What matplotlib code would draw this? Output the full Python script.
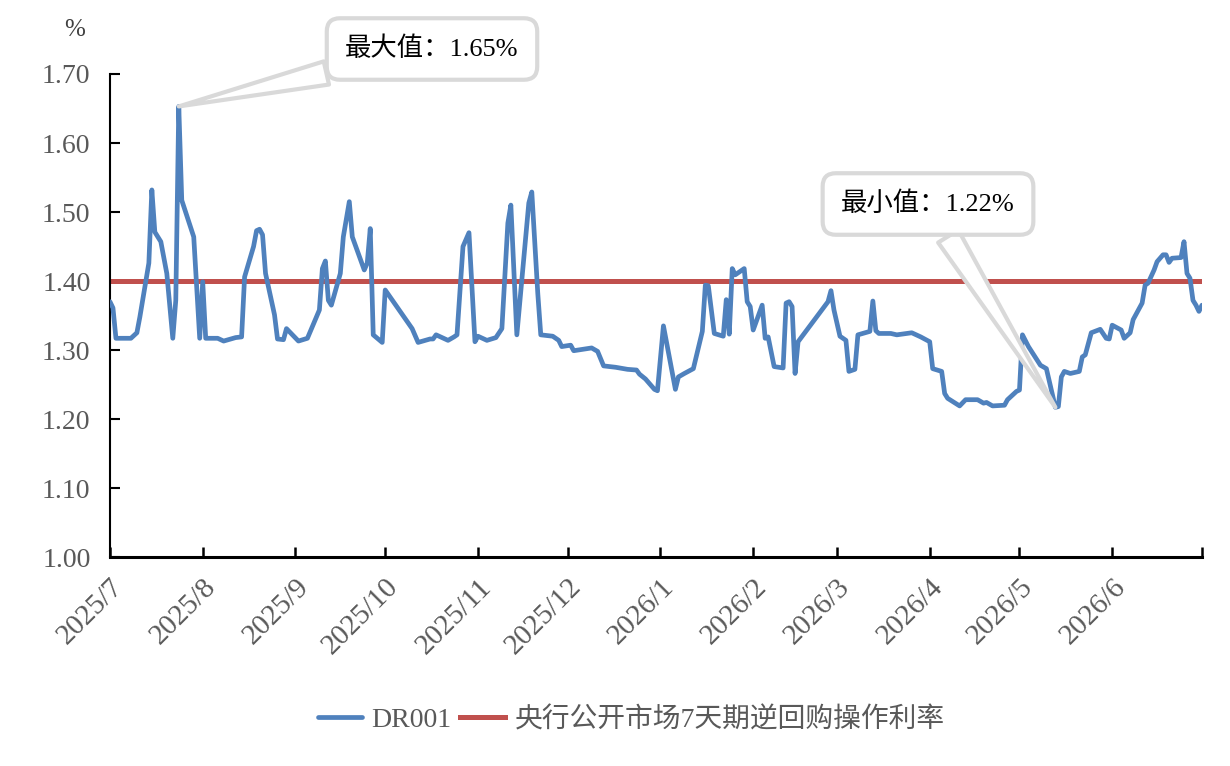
import numpy as np
import pandas as pd
import matplotlib
matplotlib.use("Agg")
import matplotlib.pyplot as plt

plt.rcParams['font.family'] = ['Liberation Serif', 'Noto Sans CJK SC', 'DejaVu Sans']

# DR001 daily values (%)
dr_dates = [
    "2025-07-01", "2025-07-02", "2025-07-03", "2025-07-08", "2025-07-10", "2025-07-11",
    "2025-07-14", "2025-07-15", "2025-07-16", "2025-07-18", "2025-07-20", "2025-07-22",
    "2025-07-23", "2025-07-24", "2025-07-25", "2025-07-29", "2025-07-31", "2025-08-01",
    "2025-08-02", "2025-08-06", "2025-08-08", "2025-08-12", "2025-08-14", "2025-08-15",
    "2025-08-18", "2025-08-19", "2025-08-20", "2025-08-21", "2025-08-22", "2025-08-25",
    "2025-08-26", "2025-08-28", "2025-08-29", "2025-09-02", "2025-09-05", "2025-09-09",
    "2025-09-10", "2025-09-11", "2025-09-12", "2025-09-13", "2025-09-16", "2025-09-17",
    "2025-09-19", "2025-09-20", "2025-09-24", "2025-09-25", "2025-09-26", "2025-09-27",
    "2025-09-30", "2025-10-01", "2025-10-10", "2025-10-12", "2025-10-16", "2025-10-17",
    "2025-10-18", "2025-10-22", "2025-10-24", "2025-10-25", "2025-10-27", "2025-10-29",
    "2025-10-31", "2025-11-01", "2025-11-04", "2025-11-07", "2025-11-09", "2025-11-11",
    "2025-11-12", "2025-11-14", "2025-11-18", "2025-11-19", "2025-11-21", "2025-11-22",
    "2025-11-26", "2025-11-28", "2025-11-29", "2025-12-02", "2025-12-03", "2025-12-09",
    "2025-12-11", "2025-12-13", "2025-12-17", "2025-12-21", "2025-12-24", "2025-12-25",
    "2025-12-27", "2025-12-30", "2025-12-31", "2026-01-02", "2026-01-06", "2026-01-07",
    "2026-01-09", "2026-01-12", "2026-01-15", "2026-01-16", "2026-01-17", "2026-01-19",
    "2026-01-22", "2026-01-23", "2026-01-24", "2026-01-25", "2026-01-26", "2026-01-29",
    "2026-01-30", "2026-01-31", "2026-02-01", "2026-02-04", "2026-02-05", "2026-02-06",
    "2026-02-08", "2026-02-11", "2026-02-12", "2026-02-13", "2026-02-14", "2026-02-15",
    "2026-02-16", "2026-02-26", "2026-02-27", "2026-02-28", "2026-03-02", "2026-03-04",
    "2026-03-05", "2026-03-07", "2026-03-08", "2026-03-12", "2026-03-13", "2026-03-14",
    "2026-03-15", "2026-03-19", "2026-03-21", "2026-03-26", "2026-03-29", "2026-04-01",
    "2026-04-02", "2026-04-05", "2026-04-06", "2026-04-07", "2026-04-11", "2026-04-13",
    "2026-04-17", "2026-04-19", "2026-04-20", "2026-04-22", "2026-04-26", "2026-04-27",
    "2026-04-30", "2026-05-01", "2026-05-02", "2026-05-04", "2026-05-08", "2026-05-10",
    "2026-05-13", "2026-05-14", "2026-05-15", "2026-05-16", "2026-05-18", "2026-05-21",
    "2026-05-22", "2026-05-23", "2026-05-25", "2026-05-28", "2026-05-30", "2026-05-31",
    "2026-06-01", "2026-06-04", "2026-06-05", "2026-06-07", "2026-06-08", "2026-06-11",
    "2026-06-12", "2026-06-13", "2026-06-15", "2026-06-16", "2026-06-18", "2026-06-19",
    "2026-06-20", "2026-06-21", "2026-06-24", "2026-06-25", "2026-06-26", "2026-06-27",
    "2026-06-28", "2026-06-29", "2026-06-30", "2026-07-01",
]
dr_values = [
    1.370, 1.361, 1.317, 1.317, 1.325, 1.348,
    1.426, 1.532, 1.471, 1.457, 1.411, 1.317,
    1.372, 1.653, 1.517, 1.464, 1.317, 1.399,
    1.317, 1.317, 1.313, 1.318, 1.319, 1.406,
    1.450, 1.473, 1.475, 1.467, 1.411, 1.351,
    1.316, 1.315, 1.331, 1.313, 1.317, 1.358,
    1.418, 1.429, 1.372, 1.365, 1.411, 1.464,
    1.515, 1.464, 1.416, 1.426, 1.476, 1.322,
    1.311, 1.387, 1.331, 1.311, 1.316, 1.316,
    1.322, 1.314, 1.319, 1.322, 1.450, 1.470,
    1.312, 1.320, 1.314, 1.318, 1.331, 1.484,
    1.510, 1.322, 1.513, 1.529, 1.382, 1.322,
    1.320, 1.314, 1.305, 1.307, 1.299, 1.303,
    1.298, 1.277, 1.275, 1.272, 1.271, 1.265,
    1.258, 1.243, 1.241, 1.335, 1.243, 1.261,
    1.266, 1.273, 1.327, 1.394, 1.393, 1.324,
    1.320, 1.373, 1.323, 1.418, 1.409, 1.418,
    1.370, 1.363, 1.329, 1.365, 1.317, 1.319,
    1.276, 1.274, 1.368, 1.370, 1.363, 1.266,
    1.312, 1.370, 1.386, 1.358, 1.320, 1.314,
    1.269, 1.272, 1.322, 1.327, 1.371, 1.328,
    1.324, 1.324, 1.322, 1.325, 1.319, 1.312,
    1.273, 1.269, 1.237, 1.230, 1.219, 1.228,
    1.228, 1.223, 1.224, 1.219, 1.220, 1.228,
    1.240, 1.242, 1.322, 1.305, 1.278, 1.273,
    1.217, 1.218, 1.261, 1.269, 1.266, 1.269,
    1.290, 1.293, 1.325, 1.330, 1.317, 1.316,
    1.336, 1.329, 1.317, 1.325, 1.344, 1.368,
    1.394, 1.397, 1.416, 1.428, 1.438, 1.438,
    1.427, 1.433, 1.434, 1.457, 1.411, 1.404,
    1.372, 1.365, 1.356, 1.365,
]
repo_rate = 1.40  # 央行公开市场7天期逆回购操作利率

dates = pd.to_datetime(dr_dates)
dr = np.array(dr_values)

blue = '#4f81bd'
red = '#c0504d'
grey = '#595959'

fig = plt.figure(figsize=(12.3, 7.66), dpi=100)
ax = fig.add_axes([0.0894, 0.2728, 0.8878, 0.6306])

ax.plot(dates, dr, color=blue, lw=3.4, solid_joinstyle='round', solid_capstyle='round',
        label='DR001', zorder=3)
ax.plot(dates, np.full(len(dates), repo_rate), color=red, lw=3.6,
        label='央行公开市场7天期逆回购操作利率', zorder=2)

# axes
ax.set_ylim(1.0, 1.7)
ax.set_yticks(np.arange(1.0, 1.701, 0.1))
ax.set_yticklabels([f"{v:.2f}" for v in np.arange(1.0, 1.701, 0.1)])
month_ticks = pd.date_range("2025-07-01", "2026-07-01", freq="MS")
ax.set_xlim(month_ticks[0], month_ticks[-1])
ax.set_xticks(month_ticks)
ax.set_xticklabels([f"{d.year}/{d.month}" for d in month_ticks[:-1]] + [""],
                   rotation=45, ha='right', rotation_mode='anchor')

for s in ['top', 'right']:
    ax.spines[s].set_visible(False)
ax.spines['left'].set_linewidth(1.5)
ax.spines['bottom'].set_linewidth(2.2)
ax.tick_params(axis='y', direction='in', length=7, width=1.5, pad=14,
               labelsize=20, labelcolor=grey)
ax.tick_params(axis='x', direction='in', length=7, width=1.8, pad=12,
               labelsize=21, labelcolor=grey)

fig.text(0.061, 0.961, '%', fontsize=18, color='#404040', ha='center', va='center')

# max / min callouts
imax = int(np.argmax(dr))
imin = int(np.argmin(dr))
box = dict(boxstyle='round,pad=0.7,rounding_size=0.5', fc='white', ec='#d9d9d9', lw=3)
wedge = dict(arrowstyle='wedge,tail_width=0.9,shrink_factor=0.5', fc='white',
             ec='#d9d9d9', lw=3, shrinkA=0, shrinkB=0)
ax.annotate(f"最大值：{dr[imax]:.2f}%", xy=(dates[imax], dr[imax]),
            xytext=(432, 717), textcoords='figure pixels', ha='center', va='center',
            fontsize=19, color='black', bbox=box, arrowprops=wedge, zorder=5,
            annotation_clip=False)
ax.annotate(f"最小值：{dr[imin]:.2f}%", xy=(dates[imin], dr[imin]),
            xytext=(928, 562), textcoords='figure pixels', ha='center', va='center',
            fontsize=19, color='black', bbox=box, arrowprops=wedge, zorder=5,
            annotation_clip=False)

leg = fig.legend(loc='center', bbox_to_anchor=(0.513, 0.06), ncol=2, frameon=False,
                 fontsize=20, handlelength=1.6, columnspacing=0.3, handletextpad=0.35)
for t in leg.get_texts():
    t.set_color(grey)

fig.savefig("out.png", dpi=100)
